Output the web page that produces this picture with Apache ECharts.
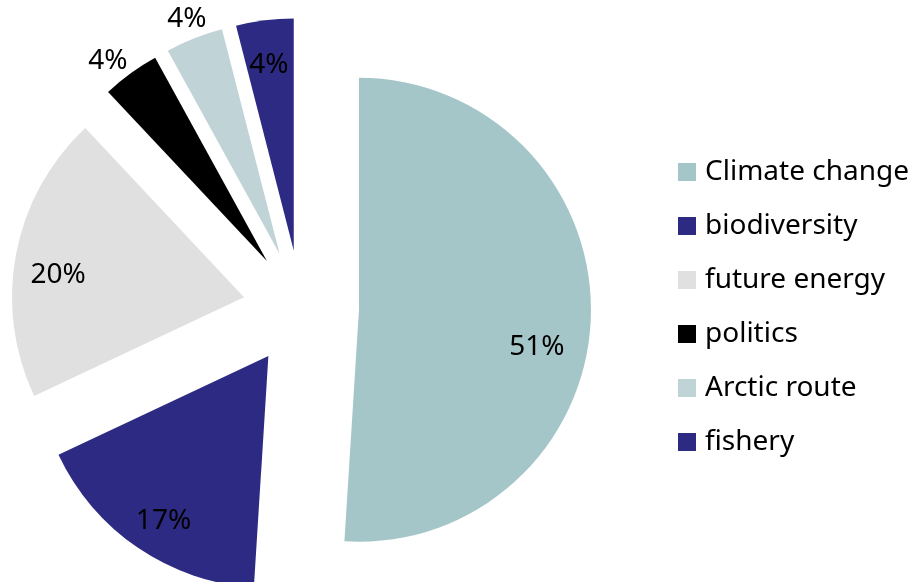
<!DOCTYPE html>
<html>
<head>
<meta charset="utf-8">
<script src="https://cdn.jsdelivr.net/npm/echarts@6/dist/echarts.min.js"></script>
<style>html,body{margin:0;padding:0;background:#fff;}#c{width:913px;height:582px;}</style>
</head>
<body>
<div id="c"></div>
<script>
const categories = ["Climate change", "biodiversity", "future energy", "politics", "Arctic route", "fishery"];
const values = [51, 17, 20, 4, 4, 4];
const colors = ["#A5C6C8", "#2D2A83", "#E0E0E0", "#000000", "#C0D3D6", "#2D2A83"];
// label nudges from default inside position
const labelShift = [[59, 33], [-38, 67], [-69, 0], [-89, -104], [-49, -124], [-10, -67]];

const chart = echarts.init(document.getElementById('c'), null, {renderer: 'canvas'});
const FONT = "'Noto Sans', 'Open Sans', sans-serif";
chart.setOption({
  animation: false,
  backgroundColor: '#ffffff',
  legend: {
    orient: 'vertical',
    left: 678,
    top: 158,
    padding: 0,
    itemWidth: 18,
    itemHeight: 18,
    itemGap: 26,
    icon: 'rect',
    textStyle: {fontFamily: FONT, fontSize: 28, color: '#000', padding: [0, 0, 0, 4], lineHeight: 28},
    data: categories
  },
  series: [{
    type: 'pie',
    center: [301, 308],
    radius: [0, 232],
    startAngle: 90,
    clockwise: true,
    selectedMode: 'multiple',
    selectedOffset: 58,
    avoidLabelOverlap: false,
    emphasis: {disabled: true, scale: false},
    label: {
      show: true,
      position: 'inside',
      formatter: '{d}%',
      fontFamily: FONT,
      fontSize: 28,
      color: '#000'
    },
    labelLine: {show: false},
    labelLayout: function (p) {
      const s = labelShift[p.dataIndex];
      return {dx: s[0], dy: s[1]};
    },
    data: categories.map((n, i) => ({
      name: n,
      value: values[i],
      selected: true,
      itemStyle: {color: colors[i]}
    }))
  }]
});
</script>
</body>
</html>
